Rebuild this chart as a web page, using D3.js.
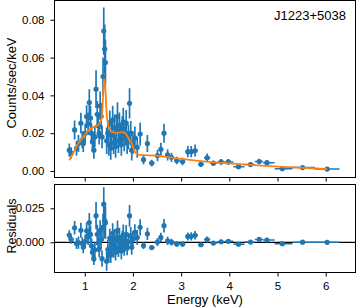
<!DOCTYPE html>
<head>
  <meta charset="utf-8">
  <script src="https://d3js.org/d3.v7.min.js"></script>
  <style>
    body { margin: 0; background: #fff; overflow: hidden; }
    text { font-family: "Liberation Sans", Arial, sans-serif; }
  </style>
</head>
<body>
  <div class="chart"></div>
  <script>
    // spectrum bins: energy (keV), counts/sec/keV, 1-sigma error, residual (data - model)
    var energy = [0.68, 0.72, 0.79, 0.83, 0.87, 0.92, 0.95, 0.97, 1.01, 1.04, 1.07, 1.095, 1.12, 1.14, 1.16, 1.19, 1.21, 1.235, 1.26, 1.28, 1.30, 1.32, 1.34, 1.36, 1.38, 1.395, 1.415, 1.43,
      1.455, 1.48, 1.50, 1.52, 1.54, 1.56, 1.58, 1.60, 1.62, 1.64, 1.66, 1.68, 1.70, 1.72, 1.74, 1.76, 1.78, 1.80, 1.82, 1.84, 1.86, 1.88, 1.905, 1.93, 1.955, 1.975, 2.00, 2.04, 2.09, 2.15,
      2.22, 2.30, 2.39, 2.51, 2.58, 2.645, 2.72, 2.80, 2.91, 3.03, 3.14, 3.21, 3.29, 3.41, 3.54, 3.67, 3.83, 3.98, 4.19, 4.44, 4.62, 4.78, 5.10, 5.52, 6.03];
    var counts = [0.0110, 0.0095, 0.0217, 0.0120, 0.0145, 0.0253, 0.0165, 0.0145, 0.0200, 0.0288, 0.0250, 0.0362, 0.0280, 0.0200, 0.0155, 0.0110, 0.0180, 0.0433, 0.0300, 0.0240, 0.0200, 0.0345, 0.0290, 0.0180, 0.0500, 0.0740, 0.0645, 0.0574,
      0.0160, 0.0200, 0.0140, 0.0250, 0.0120, 0.0190, 0.0270, 0.0150, 0.0230, 0.0130, 0.0210, 0.0288, 0.0160, 0.0240, 0.0190, 0.0140, 0.0220, 0.0260, 0.0170, 0.0200, 0.0253, 0.0150, 0.0180, 0.0358, 0.0200, 0.0110, 0.0150, 0.0175, 0.0125, 0.0195,
      0.0060, 0.0145, 0.0042, 0.0082, 0.0115, 0.0200, 0.0085, 0.0072, 0.0055, 0.0050, 0.0102, 0.0102, 0.0108, 0.0035, 0.0070, 0.0041, 0.0048, 0.0048, 0.0023, 0.0034, 0.0050, 0.0044, 0.0012, 0.0018, 0.0010];
    var countErr = [0.0035, 0.0030, 0.0050, 0.0040, 0.0045, 0.0055, 0.0045, 0.0045, 0.0050, 0.0060, 0.0060, 0.0070, 0.0065, 0.0055, 0.0050, 0.0045, 0.0055, 0.0100, 0.0070, 0.0065, 0.0060, 0.0075, 0.0070, 0.0060, 0.0100, 0.0125, 0.0130, 0.0120,
      0.0070, 0.0070, 0.0060, 0.0070, 0.0060, 0.0065, 0.0075, 0.0060, 0.0070, 0.0060, 0.0070, 0.0075, 0.0065, 0.0070, 0.0065, 0.0060, 0.0070, 0.0075, 0.0065, 0.0065, 0.0070, 0.0060, 0.0065, 0.0080, 0.0065, 0.0055, 0.0060, 0.0060, 0.0055, 0.0060,
      0.0025, 0.0045, 0.0018, 0.0030, 0.0035, 0.0050, 0.0030, 0.0025, 0.0020, 0.0020, 0.0030, 0.0030, 0.0032, 0.0012, 0.0022, 0.0015, 0.0015, 0.0015, 0.0008, 0.0010, 0.0015, 0.0013, 0.0005, 0.0006, 0.0004];
    var resid = [0.0053, 0.0020, 0.0107, -0.0009, -0.0002, 0.0088, -0.0008, -0.0035, 0.0007, 0.0085, 0.0040, 0.0145, 0.0058, -0.0026, -0.0074, -0.0122, -0.0055, 0.0196, 0.0059, -0.0005, -0.0050, 0.0087, 0.0020, -0.0120, 0.0110, 0.0280, 0.0160, 0.0144,
      -0.0140, -0.0053, -0.0090, 0.0030, -0.0093, -0.0018, 0.0065, -0.0054, 0.0027, -0.0073, 0.0008, 0.0086, -0.0043, 0.0037, -0.0014, -0.0064, 0.0015, 0.0055, -0.0033, 0.0000, 0.0058, -0.0035, 0.0005, 0.0195, 0.0047, -0.0037, 0.0022, 0.0073, 0.0035, 0.0110,
      -0.0024, 0.0062, -0.0039, 0.0002, 0.0036, 0.0122, 0.0010, 0.0001, -0.0012, -0.0013, 0.0043, 0.0044, 0.0052, -0.0018, 0.0020, -0.0006, 0.0004, 0.0007, -0.0014, 0.0002, 0.0021, 0.0017, -0.0010, 0.0001, 0.0000];

    // best-fit model curve
    var modelE = [0.68, 0.72, 0.79, 0.83, 0.87, 0.92, 0.97, 1.04, 1.10, 1.18, 1.25, 1.30, 1.34, 1.36, 1.38, 1.395, 1.41, 1.43, 1.455, 1.48, 1.52, 1.56, 1.62, 1.70, 1.80, 1.84, 1.88, 1.93, 1.975, 2.00, 2.04, 2.09, 2.15, 2.30, 2.56, 2.91, 3.10, 3.50, 4.00, 4.50, 5.10, 5.50, 6.03];
    var modelV = [0.0057, 0.0075, 0.0110, 0.0129, 0.0147, 0.0165, 0.0180, 0.0203, 0.0218, 0.0232, 0.0240, 0.0250, 0.0270, 0.0300, 0.0390, 0.0460, 0.0486, 0.0430, 0.0300, 0.0253, 0.0220, 0.0208, 0.0203, 0.0203, 0.0205, 0.0200, 0.0185, 0.0163, 0.0147, 0.0128, 0.0102, 0.0090, 0.0085, 0.0083, 0.0079, 0.0067, 0.0061, 0.0050, 0.0040, 0.0031, 0.0022, 0.0017, 0.0010];

    var source = "J1223+5038";
    var topTicks = [0, 0.02, 0.04, 0.06, 0.08];
    var resTicks = [0, 0.025];
    var xTicks = [1, 2, 3, 4, 5, 6];

    var W = 357, H = 307;
    var L = 54.5, R = 355.5;
    var t1 = 0.5, b1 = 177.5, t2 = 184.5, b2 = 272.5;
    var blue = "#1f77b4", orange = "#ff7f0e";

    var svg = d3.select(".chart").append("svg")
      .attr("width", W).attr("height", H)
      .style("display", "block");

    var x = d3.scaleLinear().domain([0.373, 6.618]).range([L, R]);
    var yTop = d3.scaleLinear().domain([-0.00345, 0.0902]).range([b1, t1]);
    var yRes = d3.scaleLinear().domain([-0.0222, 0.0425]).range([b2, t2]);

    // half bin widths from neighbouring bin centres
    var halfW = energy.map(function(e, i) {
      var lo = i > 0 ? (e - energy[i - 1]) / 2 : (energy[1] - e) / 2;
      var hi = i < energy.length - 1 ? (energy[i + 1] - e) / 2 : (e - energy[i - 1]) / 2;
      return [lo, hi];
    });

    var defs = svg.append("defs");
    defs.append("clipPath").attr("id", "clipTop").append("rect")
      .attr("x", L).attr("y", t1).attr("width", R - L).attr("height", b1 - t1);
    defs.append("clipPath").attr("id", "clipRes").append("rect")
      .attr("x", L).attr("y", t2).attr("width", R - L).attr("height", b2 - t2);

    function drawPoints(g, yScale, vals) {
      var pts = energy.map(function(e, i) {
        return { e: e, v: vals[i], err: countErr[i], hw: halfW[i] };
      });
      g.selectAll(".xerr").data(pts).enter().append("line")
        .attr("x1", function(d) { return x(d.e - d.hw[0]); })
        .attr("x2", function(d) { return x(d.e + d.hw[1]); })
        .attr("y1", function(d) { return yScale(d.v); })
        .attr("y2", function(d) { return yScale(d.v); })
        .attr("stroke", blue).attr("stroke-width", 1.5);
      g.selectAll(".yerr").data(pts).enter().append("line")
        .attr("x1", function(d) { return x(d.e); })
        .attr("x2", function(d) { return x(d.e); })
        .attr("y1", function(d) { return yScale(d.v - d.err); })
        .attr("y2", function(d) { return yScale(d.v + d.err); })
        .attr("stroke", blue).attr("stroke-width", 1.7);
      g.selectAll(".dot").data(pts).enter().append("circle")
        .attr("cx", function(d) { return x(d.e); })
        .attr("cy", function(d) { return yScale(d.v); })
        .attr("r", 2.6)
        .attr("fill", blue);
    }

    // top panel
    var gTop = svg.append("g").attr("clip-path", "url(#clipTop)");
    drawPoints(gTop, yTop, counts);
    var line = d3.line()
      .x(function(d, i) { return x(modelE[i]); })
      .y(function(d) { return yTop(d); })
      .curve(d3.curveMonotoneX);
    gTop.append("path").datum(modelV)
      .attr("d", line)
      .attr("fill", "none")
      .attr("stroke", orange)
      .attr("stroke-width", 1.8);

    // residual panel
    var gRes = svg.append("g").attr("clip-path", "url(#clipRes)");
    gRes.append("line")
      .attr("x1", L).attr("x2", R)
      .attr("y1", yRes(0)).attr("y2", yRes(0))
      .attr("stroke", "#000").attr("stroke-width", 1.2);
    drawPoints(gRes, yRes, resid);

    // axes
    function styleAxis(g) {
      g.selectAll(".domain").remove();
      g.selectAll("line").attr("stroke", "#000").attr("stroke-width", 1);
      g.selectAll("text").attr("font-size", 11.5).attr("fill", "#000");
    }
    svg.append("g").attr("transform", "translate(" + L + ",0)")
      .call(d3.axisLeft(yTop).tickValues(topTicks).tickFormat(d3.format(".2f")).tickSize(4).tickPadding(6))
      .call(styleAxis);
    svg.append("g").attr("transform", "translate(0," + b1 + ")")
      .call(d3.axisBottom(x).tickValues(xTicks).tickFormat("").tickSize(4))
      .call(styleAxis);
    svg.append("g").attr("transform", "translate(" + L + ",0)")
      .call(d3.axisLeft(yRes).tickValues(resTicks).tickFormat(d3.format(".3f")).tickSize(4).tickPadding(6))
      .call(styleAxis);
    svg.append("g").attr("transform", "translate(0," + b2 + ")")
      .call(d3.axisBottom(x).tickValues(xTicks).tickFormat(d3.format("d")).tickSize(4).tickPadding(5.5))
      .call(styleAxis);

    // frames
    [[t1, b1], [t2, b2]].forEach(function(p) {
      svg.append("rect")
        .attr("x", L).attr("y", p[0])
        .attr("width", R - L).attr("height", p[1] - p[0])
        .attr("fill", "none").attr("stroke", "#000").attr("stroke-width", 1);
    });

    // labels
    svg.append("text")
      .attr("transform", "translate(15.5,83) rotate(-90)")
      .attr("text-anchor", "middle")
      .attr("font-size", 13)
      .text("Counts/sec/keV");
    svg.append("text")
      .attr("transform", "translate(15.5,226) rotate(-90)")
      .attr("text-anchor", "middle")
      .attr("font-size", 12.5)
      .text("Residuals");
    svg.append("text")
      .attr("x", (L + R) / 2).attr("y", 303.5)
      .attr("text-anchor", "middle")
      .attr("font-size", 13)
      .text("Energy (keV)");
    svg.append("text")
      .attr("x", 346).attr("y", 20)
      .attr("text-anchor", "end")
      .attr("font-size", 13)
      .text(source);
  </script>
</body>
